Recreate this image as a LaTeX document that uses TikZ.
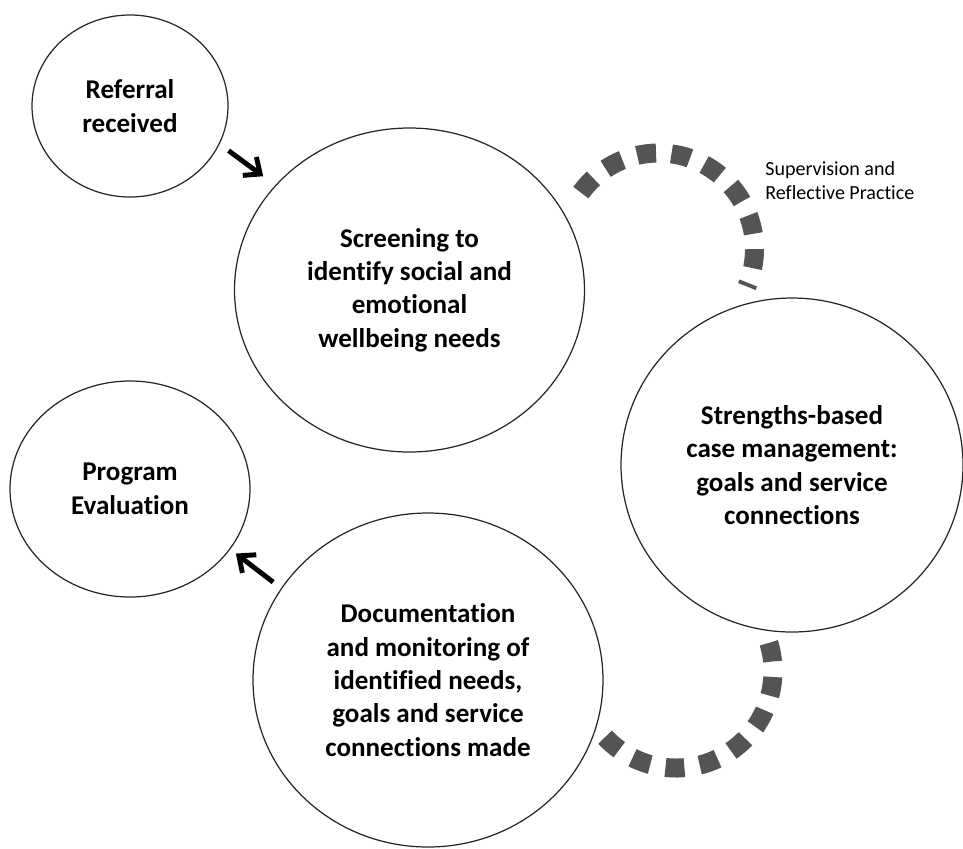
\documentclass[tikz,border=0pt]{standalone}
\usepackage{fontspec}
\setmainfont[Ligatures=NoCommon]{Carlito}
\usetikzlibrary{positioning,arrows.meta,shapes.geometric}
\tikzset{
    stage/.style = {
        draw=black!85,
        shape=ellipse,
        inner sep=0pt,
        align=center,
        line width=0.7pt,
        font=\fontsize{15.4}{19}\selectfont\bfseries
    },
    note/.style = {
        inner sep=0pt,
        align=left,
        font=\fontsize{11.4}{13.7}\selectfont
    },
    dashring/.style = {
        color=black!67,
        line width=0.38cm,
        dash pattern=on 0.38cm off 0.31cm
    },
    flow/.style = {
        line width=2.8pt,
        -{Straight Barb[length=7.5pt,width=13pt]}
    },
}

\begin{document}
\begin{tikzpicture}
            \useasboundingbox (0,0) rectangle (19.26,-16.96);

            \node[stage, minimum width=3.92cm, minimum height=3.64cm] (ref) at (2.6,-2.12) {Referral\\received};
            \node[stage, minimum width=7cm, minimum height=6.48cm] (scr) at (8.19,-5.8) {Screening to\\identify social and\\emotional\\wellbeing needs};
            \node[stage, minimum width=6.84cm, minimum height=6.68cm] (case) at (15.84,-9.3) {Strengths-based\\case management:\\goals and service\\connections};
            \node[stage, minimum width=4.8cm, minimum height=4.32cm] (prog) at (2.6,-9.78) {Program\\Evaluation};
            \node[stage, minimum width=7cm, minimum height=6.68cm] (doc) at (8.56,-13.6) {Documentation\\and monitoring of\\identified needs,\\goals and service\\connections made};

            \node[note, anchor=west] (sup) at (15.3,-3.62) {Supervision and\\Reflective Practice};

            \path[draw, flow, shorten <=0.22cm, shorten >=0.3cm] (ref.-23) -- (scr.142);
            \path[draw, flow, shorten <=0.2cm, shorten >=0.14cm] (doc.148) -- (prog.-31);

            % supervision rings
            \coordinate (topc) at (13.17,-4.98);
            \coordinate (botc) at (13.52,-13.42);
            \path[draw, dashring] (topc) ++(144:1.92) arc[start angle=144, end angle=-23, radius=1.92];
            \path[draw, dashring] (botc) ++(223:1.94) arc[start angle=223, end angle=378, radius=1.94];
\end{tikzpicture}
\end{document}
